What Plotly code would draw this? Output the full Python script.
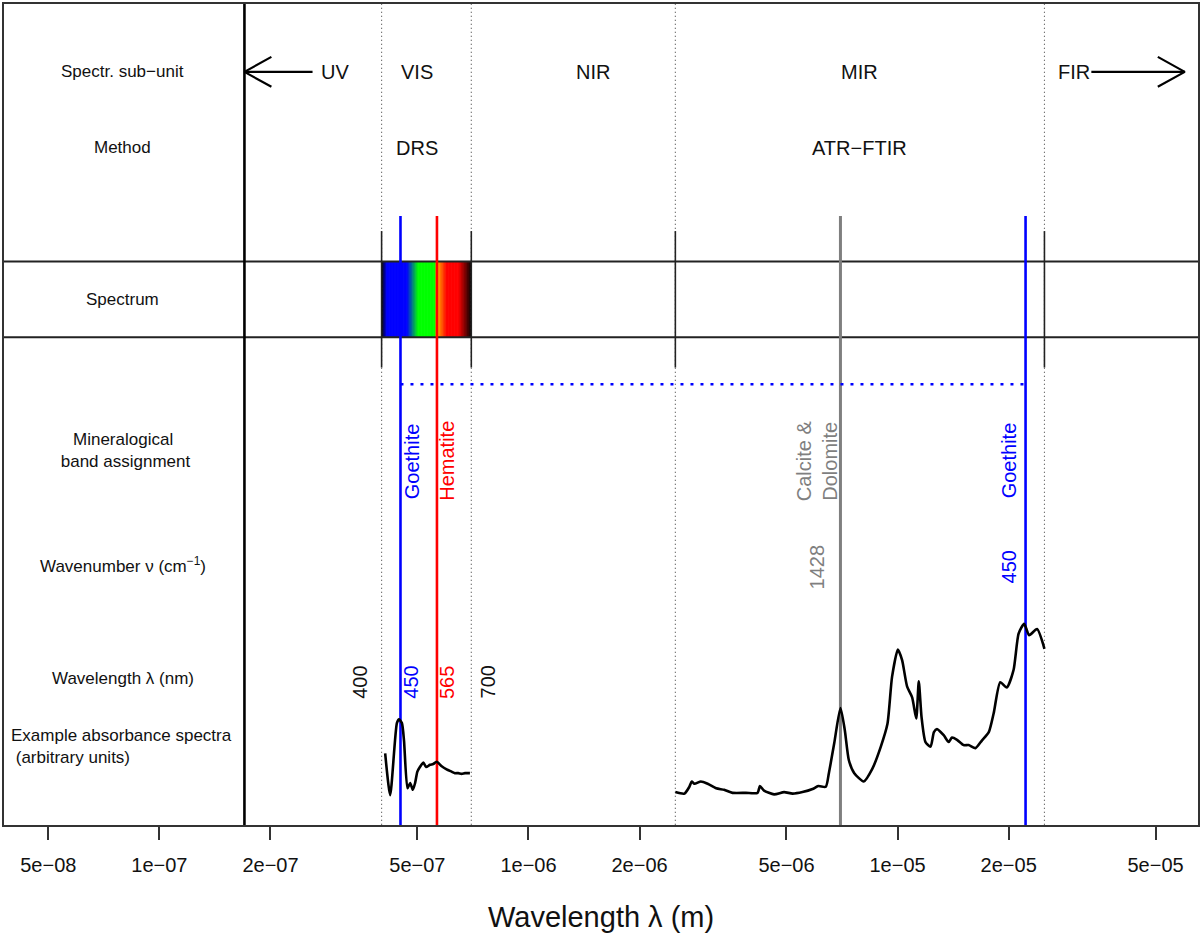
import numpy as np
import plotly.graph_objects as go

# ---------------- data ----------------
tick_vals = [5e-8, 1e-7, 2e-7, 5e-7, 1e-6, 2e-6, 5e-6, 1e-5, 2e-5, 5e-5]
tick_text = ["5e−08", "1e−07", "2e−07", "5e−07", "1e−06", "2e−06",
             "5e−06", "1e−05", "2e−05", "5e−05"]

row_labels = ["Spectr. sub−unit", "Method", "Spectrum",
              "Mineralogical<br>\u00a0band assignment",
              "Wavenumber ν (cm<sup>−1</sup>)", "Wavelength λ (nm)"]
row_y = [10, 9, 7, 5, 3.5, 2]
example_label = "Example absorbance spectra<br>\u00a0(arbitrary units)"

subunit_labels = ["UV", "VIS", "NIR", "MIR", "FIR"]
subunit_x = [3e-7, 5e-7, 1.5e-6, 7.9e-6, 3e-5]
method_labels = ["DRS", "ATR−FTIR"]
method_x = [5e-7, 7.9e-6]

separator_x = 1.7e-7                     # UV limit drawn as thick line
boundaries_m = [4e-7, 7e-7, 2.5e-6, 2.5e-5]
boundary_nm = ["400", "700"]

band_names = ["Goethite", "Hematite", "Calcite &<br>Dolomite", "Goethite"]
band_value = [450, 565, 1428, 450]
band_unit = ["nm", "nm", "cm-1", "cm-1"]
band_color = ["#0000FF", "#FF0000", "#7F7F7F", "#0000FF"]

# VIS (DRS) example spectrum
vis_nm = [409, 422, 440, 446, 454, 460, 470, 478, 486, 493, 500, 508, 519,
          528, 541, 552, 564, 582, 600, 619, 632, 645, 659, 673, 694]
vis_abs = [1.01, 0.46, 1.41, 1.46, 1.41, 1.18, 0.55, 0.62, 0.53, 0.62, 0.77,
           0.83, 0.89, 0.83, 0.86, 0.87, 0.90, 0.84, 0.80, 0.77, 0.75, 0.75,
           0.74, 0.75, 0.75]

# MIR (ATR-FTIR) example spectrum
mir_wn = [4000, 3780, 3665, 3610, 3550, 3410, 3270, 3100, 2950, 2800, 2575,
          2395, 2360, 2300, 2160, 2030, 1925, 1810, 1700, 1640, 1565, 1535,
          1485, 1428, 1390, 1355, 1310, 1235, 1170, 1110, 1065, 1035, 998,
          972, 942, 913, 890, 876, 861, 840, 814, 797, 782, 750, 727, 712,
          690, 662, 642, 615, 591, 566, 549, 527, 506, 485, 470, 454, 440,
          419, 400]
mir_abs = [0.50, 0.48, 0.57, 0.64, 0.61, 0.64, 0.61, 0.55, 0.53, 0.49, 0.49,
           0.49, 0.58, 0.52, 0.47, 0.50, 0.48, 0.50, 0.54, 0.58, 0.57, 0.75,
           1.14, 1.61, 1.32, 0.92, 0.75, 0.64, 0.81, 1.10, 1.40, 2.02, 2.38,
           2.24, 1.89, 1.75, 1.47, 1.96, 1.49, 1.16, 1.10, 1.29, 1.33, 1.25,
           1.16, 1.22, 1.19, 1.12, 1.12, 1.08, 1.18, 1.29, 1.54, 1.95, 1.88,
           2.11, 2.59, 2.72, 2.57, 2.65, 2.39]

# colour ramp of the visible spectrum (style)
ramp_nm = [400, 413, 468, 502, 558, 562, 578, 600, 645, 700]
ramp_rgb = [(0, 0, 0), (0, 0, 255), (0, 0, 255), (0, 255, 0), (0, 255, 0),
            (255, 215, 0), (255, 110, 0), (255, 0, 0), (255, 0, 0), (0, 0, 0)]

# ---------------- helpers ----------------
FONT = "Liberation Sans, Arial, sans-serif"
TXT = "#111111"
Y0, Y1 = 0.066, 10.895
XR = [-7.421, -4.186]


def to_m(v, unit):
    return v * 1e-9 if unit == "nm" else 0.01 / v


fig = go.Figure()


def line(x, y, color="black", width=2.0, dash=None, shape="linear"):
    fig.add_trace(go.Scatter(x=x, y=y, mode="lines", hoverinfo="skip",
                             line=dict(color=color, width=width, dash=dash,
                                       shape=shape,
                                       smoothing=0.6 if shape == "spline" else None),
                             showlegend=False))


def text(x, y, s, size=20, color=TXT, angle=0, xshift=0, **kw):
    fig.add_annotation(x=np.log10(x), y=y, text=s, showarrow=False,
                       textangle=angle, xshift=xshift,
                       font=dict(family=FONT, size=size, color=color), **kw)


# spectrum colour band (slightly overlapping slices to avoid seams)
edges = np.geomspace(ramp_nm[0], ramp_nm[-1], 121)
for i, (a, b) in enumerate(zip(edges[:-1], edges[1:])):
    c = np.sqrt(a * b)
    rgb = [np.interp(c, ramp_nm, [r[k] for r in ramp_rgb]) for k in range(3)]
    x1 = b * 1.004 if i < len(edges) - 2 else b
    fig.add_shape(type="rect", x0=a * 1e-9, x1=x1 * 1e-9, y0=6.5, y1=7.5,
                  fillcolor="rgb(%d,%d,%d)" % tuple(int(round(v)) for v in rgb),
                  line=dict(width=0), layer="below")

# dotted boundaries and short solid marks
for bx in boundaries_m:
    line([bx, bx], [Y0 - 1, Y1 + 1], color="#444444", width=1.1, dash="1px,3px")
    line([bx, bx], [6.1, 7.9], color="#222222", width=1.6)

# horizontal separators of the spectrum row
line([10 ** XR[0], 10 ** XR[1]], [7.5, 7.5], color="#222222", width=2)
line([10 ** XR[0], 10 ** XR[1]], [6.5, 6.5], color="#222222", width=2)

# thick separator between label column and chart
line([separator_x, separator_x], [Y0 - 1, Y1 + 1], color="black", width=2.6)

# band assignment lines
band_m = [to_m(v, u) for v, u in zip(band_value, band_unit)]
for bm, col in zip(band_m, band_color):
    line([bm, bm], [Y0 - 1, 8.1], color=col, width=2.6 if col != "#7F7F7F" else 3.0)

# dotted blue link between the two goethite bands
line([band_m[0], band_m[3]], [5.88, 5.88], color="#0000FF", width=2.6, dash="3px,7px")

# arrows (UV / FIR)
hx = 27 / 369.7
hy = 15 / 76.0
uv_tail, uv_tip = 2.6e-7, separator_x
fir_tail, fir_tip = 3.35e-5, 6.0e-5
arr_x = [uv_tail, uv_tip, None, uv_tip * 10 ** hx, uv_tip, uv_tip * 10 ** hx, None,
         fir_tail, fir_tip, None, fir_tip / 10 ** hx, fir_tip, fir_tip / 10 ** hx]
arr_y = [10, 10, None, 10 + hy, 10, 10 - hy, None,
         10, 10, None, 10 + hy, 10, 10 - hy]
line(arr_x, arr_y, color="black", width=2.2)

# example spectra
line([v * 1e-9 for v in vis_nm], vis_abs, color="black", width=2.6, shape="spline")
line([0.01 / w for w in mir_wn], mir_abs, color="black", width=2.6, shape="spline")

# ---------------- text ----------------
lab_x = 7.96e-8
for s, yy in zip(row_labels, row_y):
    text(lab_x, yy, s, size=17)
text(3.915e-8, 1.1, example_label, size=17, xanchor="left", align="left")

for s, xx in zip(subunit_labels, subunit_x):
    text(xx, 10, s, size=20)
for s, xx in zip(method_labels, method_x):
    text(xx, 9, s, size=20)

name_shift = [11, 10, -24, -17]
for s, bm, col, sh in zip(band_names, band_m, band_color, name_shift):
    text(bm, 4.87, s, size=20, color=col, angle=-90, xshift=sh)
for v, bm, col, sh, u in zip(band_value, band_m, band_color, name_shift, band_unit):
    yy = 1.95 if u == "nm" else 3.47
    text(bm, yy, str(v), size=20, color=col, angle=-90, xshift=sh)
text(boundaries_m[0], 1.95, boundary_nm[0], size=20, angle=-90, xshift=-21)
text(boundaries_m[1], 1.95, boundary_nm[1], size=20, angle=-90, xshift=17)

fig.add_annotation(xref="paper", yref="paper", x=0.5, y=-0.1118,
                   text="Wavelength λ (m)", showarrow=False, yanchor="middle",
                   font=dict(family=FONT, size=29, color=TXT))

fig.update_layout(
    width=1202, height=935,
    margin=dict(l=4, r=2, t=2, b=110),
    paper_bgcolor="white", plot_bgcolor="white",
    showlegend=False,
    xaxis=dict(type="log", range=XR, tickvals=tick_vals, ticktext=tick_text,
               ticks="outside", ticklen=13, tickwidth=1.5, tickcolor="#333333",
               ticklabelstandoff=8,
               showgrid=False, zeroline=False, showline=True, mirror=True,
               linecolor="#333333", linewidth=1.5,
               tickfont=dict(family=FONT, size=20, color=TXT)),
    yaxis=dict(range=[Y0, Y1], showgrid=False, zeroline=False, showline=True,
               mirror=True, linecolor="#333333", linewidth=1.5,
               showticklabels=False, ticks=""),
)

fig.write_html("out.html", config={"displayModeBar": False},
               post_script="document.body.style.margin='0';document.body.style.padding='0';")
